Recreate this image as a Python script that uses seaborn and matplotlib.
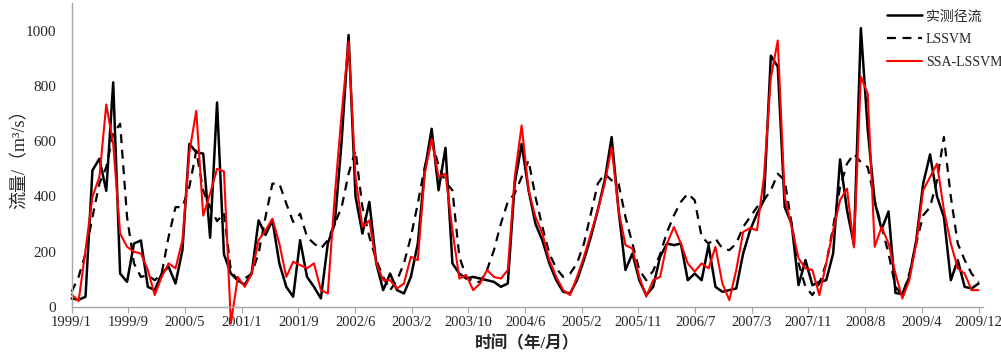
import numpy as np
import pandas as pd
import matplotlib
matplotlib.use("Agg")
import matplotlib.pyplot as plt
import seaborn as sns

tick_labels = ["1999/1", "1999/9", "2000/5", "2001/1", "2001/9", "2002/6", "2003/2",
               "2003/10", "2004/6", "2005/2", "2005/11", "2006/7", "2007/3", "2007/11",
               "2008/8", "2009/4", "2009/12"]

observed = [30, 25, 36, 494, 536, 420, 813, 120, 90, 229,
            240, 72, 60, 120, 145, 84, 205, 590, 560, 555,
            250, 740, 190, 120, 95, 80, 120, 313, 260, 313,
            157, 72, 36, 241, 108, 72, 30, 229, 300, 600,
            985, 400, 265, 380, 157, 60, 120, 60, 48, 108,
            229, 494, 645, 422, 576, 157, 120, 102, 108, 102,
            96, 90, 72, 84, 446, 590, 422, 300, 240, 157,
            96, 54, 48, 96, 169, 253, 350, 458, 615, 350,
            133, 193, 96, 42, 72, 181, 229, 223, 229, 96,
            120, 96, 223, 72, 54, 60, 66, 193, 277, 337,
            386, 910, 870, 361, 300, 78, 169, 78, 90, 96,
            193, 534, 350, 225, 1010, 640, 380, 280, 345, 50,
            45, 108, 240, 446, 552, 400, 325, 96, 169, 72,
            66, 84]

lssvm = [54, 108, 193, 325, 446, 506, 627, 663, 325, 157,
         108, 114, 96, 120, 253, 361, 361, 434, 566, 420,
         360, 310, 340, 130, 96, 102, 120, 193, 325, 446,
         446, 374, 307, 337, 253, 229, 211, 241, 301, 361,
         482, 566, 361, 253, 169, 108, 60, 96, 157, 253,
         374, 506, 602, 512, 452, 422, 181, 108, 90, 90,
         133, 205, 301, 380, 410, 470, 530, 398, 289, 193,
         139, 108, 120, 157, 229, 337, 446, 482, 458, 446,
         325, 229, 133, 96, 130, 190, 270, 331, 380, 410,
         386, 253, 229, 247, 211, 205, 229, 289, 325, 361,
         386, 422, 482, 458, 301, 157, 72, 42, 84, 157,
         289, 434, 518, 554, 524, 506, 386, 289, 193, 72,
         42, 120, 229, 331, 361, 458, 615, 398, 229, 169,
         120, 90]

ssa_lssvm = [45, 20, 205, 398, 470, 733, 590, 265, 217, 199,
             193, 133, 42, 108, 157, 139, 241, 560, 710, 330,
             410, 500, 490, -60, 108, 72, 120, 241, 277, 319,
             229, 108, 163, 151, 139, 157, 60, 48, 400, 700,
             960, 470, 289, 313, 157, 96, 96, 66, 84, 181,
             169, 482, 608, 470, 482, 277, 102, 114, 60, 84,
             133, 108, 102, 133, 470, 657, 422, 325, 265, 169,
             108, 60, 42, 108, 181, 265, 350, 446, 578, 350,
             223, 211, 108, 36, 96, 108, 229, 289, 229, 157,
             127, 157, 139, 217, 84, 24, 133, 271, 285, 277,
             470, 830, 965, 398, 289, 175, 139, 133, 42, 157,
             277, 386, 428, 215, 834, 771, 217, 289, 229, 120,
             30, 96, 229, 422, 470, 518, 350, 229, 139, 120,
             60, 60]

month = np.arange(len(observed))
df = pd.DataFrame({"month": month, "obs": observed, "lssvm": lssvm, "ssa": ssa_lssvm})

sns.set_style("white")
plt.rcParams["font.family"] = ["Liberation Serif", "Noto Sans CJK SC", "DejaVu Sans"]

fig = plt.figure(figsize=(10.01, 3.59), dpi=100)
ax = fig.add_axes([0.0716, 0.1457, 0.9101, 0.8453])

sns.lineplot(data=df, x="month", y="obs", ax=ax, color="black", linewidth=1.8,
             label="实测径流")
sns.lineplot(data=df, x="month", y="lssvm", ax=ax, color="black", linewidth=1.6,
             linestyle=(0, (4, 3)), label="LSSVM")
sns.lineplot(data=df, x="month", y="ssa", ax=ax, color="#FF0000", linewidth=1.5,
             label="SSA-LSSVM")
for ln in ax.lines:
    ln.set_clip_on(False)

ax.set_xlim(0, 131.6)
ax.set_ylim(0, 1100)
ax.set_yticks([0, 200, 400, 600, 800, 1000])
ax.set_yticklabels(["0", "200", "400", "600", "800", "1000"], fontsize=11)
xt = np.linspace(0, 131, len(tick_labels))
ax.set_xticks(xt)
ax.set_xticklabels(tick_labels, fontsize=10.5)

for s in ["top", "right"]:
    ax.spines[s].set_visible(False)
for s in ["left", "bottom"]:
    ax.spines[s].set_color("#A6A6A6")
    ax.spines[s].set_linewidth(1.0)
ax.tick_params(axis="x", direction="out", length=4, color="#A6A6A6", pad=3, bottom=True)
ax.tick_params(axis="y", length=0, pad=11)

ax.set_xlabel("时间（年/月）", fontsize=12, fontweight="bold", labelpad=5)
ax.set_ylabel("流量/（m³/s）", fontsize=13, labelpad=-2)

leg = ax.legend(loc="upper left", bbox_to_anchor=(876 / 1001, 1 + 1 / 359),
                bbox_transform=fig.transFigure, frameon=False, fontsize=10,
                handlelength=2.5, handletextpad=0.3, labelspacing=0.7, borderpad=0.3)

fig.savefig("out.png", dpi=100)
